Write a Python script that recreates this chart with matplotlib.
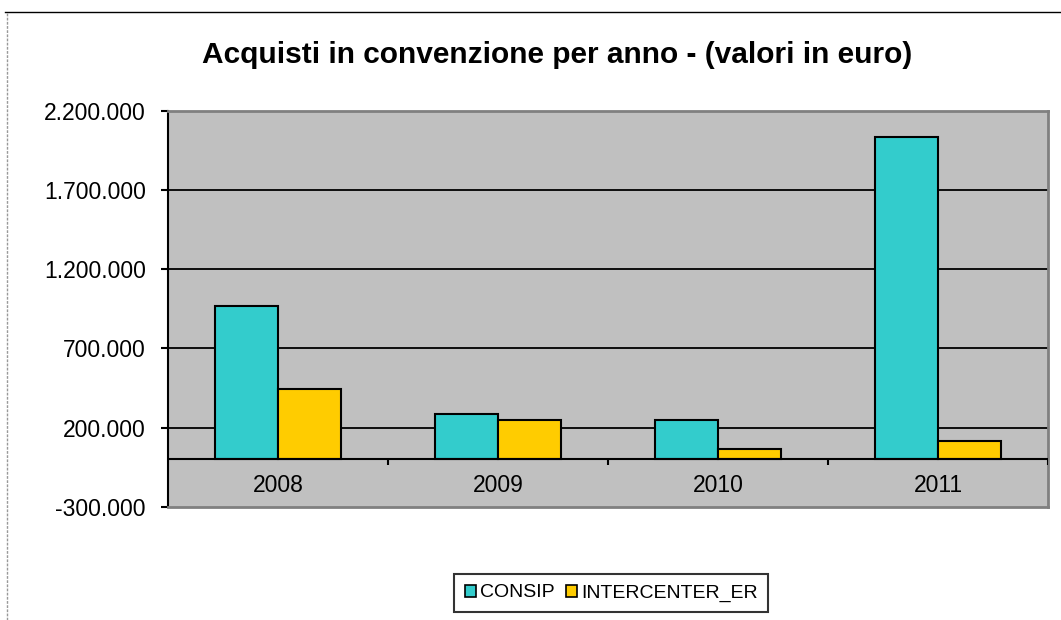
import matplotlib
matplotlib.use("Agg")
import matplotlib.pyplot as plt
import numpy as np
from matplotlib.patches import Patch
from matplotlib.lines import Line2D

years = ["2008", "2009", "2010", "2011"]
consip = [968000, 284000, 248000, 2037000]
intercenter = [443000, 248000, 64000, 115000]
series_names = ["CONSIP", "INTERCENTER_ER"]
yticks = [-300000, 200000, 700000, 1200000, 1700000, 2200000]
title = "Acquisti in convenzione per anno - (valori in euro)"

def fmt(v):
    s = "{:,}".format(abs(int(v))).replace(",", ".")
    return ("-" if v < 0 else "") + s

plt.rcParams['font.family'] = ['Liberation Sans', 'DejaVu Sans']

fig = plt.figure(figsize=(10.61, 6.20), dpi=100)
ax = fig.add_axes([168/1061, 1-506.7/620, (1048-168)/1061, (506.7-111)/620])
ax.set_facecolor("#C0C0C0")

x = np.arange(len(years))
w = 0.2857
ax.set_xlim(-0.5, len(years) - 0.5)
ax.set_ylim(yticks[0], yticks[-1])

for t in yticks[1:-1]:
    ax.axhline(t, color="black", lw=1.3, zorder=1)
ax.axhline(0, color="black", lw=1.5, zorder=3)

ax.bar(x - w/2, consip, w, color="#33CCCC", edgecolor="black", lw=1.5, zorder=2)
ax.bar(x + w/2, intercenter, w, color="#FFCC00", edgecolor="black", lw=1.5, zorder=2)

ax.vlines(x + 0.5, -38000, 0, color="black", lw=1.5, zorder=3)

for i, y in enumerate(years):
    ax.text(i, -165000, y, ha="center", va="center", fontsize=16.5, color="black")

ax.set_xticks([])
ax.set_yticks(yticks)
ax.set_yticklabels([fmt(v) for v in yticks], fontsize=16.5)
ax.tick_params(axis="y", direction="out", length=5, width=1.5, pad=11, color="black")

for s in ["top", "right", "bottom"]:
    ax.spines[s].set_color("#808080")
    ax.spines[s].set_linewidth(2)
ax.spines["left"].set_color("black")
ax.spines["left"].set_linewidth(1.5)

fig.text(557.5/1061, 1-55/620, title, ha="center", va="center",
         fontsize=21.5, fontweight="bold")

handles = [Patch(facecolor="#33CCCC", edgecolor="black", lw=1.2),
           Patch(facecolor="#FFCC00", edgecolor="black", lw=1.2)]
leg = fig.legend(handles, series_names, loc="center",
                 bbox_to_anchor=(611/1061, 1-593/620), ncol=2,
                 fontsize=14, frameon=True, fancybox=False,
                 handlelength=0.57, handleheight=0.57, handletextpad=0.2,
                 columnspacing=0.6, borderpad=0.55, borderaxespad=0)
leg.get_frame().set_edgecolor("black")
leg.get_frame().set_linewidth(1.5)

fig.add_artist(Line2D([5/1061, 1], [1-12/620, 1-12/620], color="black", lw=1))
fig.add_artist(Line2D([7/1061, 7/1061], [0, 1-12/620], color="#999999", lw=1, ls=(0, (2, 1))))

fig.savefig("out.png", dpi=100)
